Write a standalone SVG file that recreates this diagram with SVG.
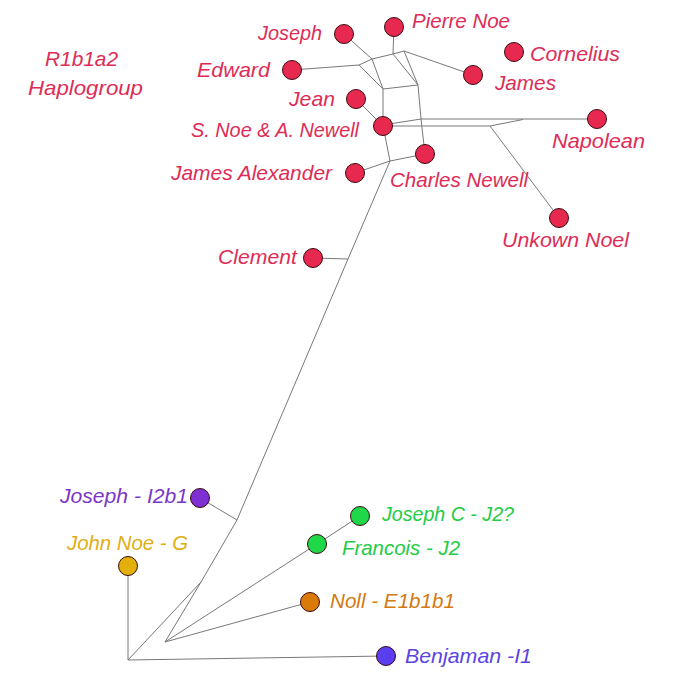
<svg xmlns="http://www.w3.org/2000/svg" width="690" height="681" viewBox="0 0 690 681">
<style>
text{font-family:"Liberation Sans",Arial,sans-serif;font-style:italic;font-size:21px}
.red{fill:#de2c56}.pur{fill:#7b35c8}.yel{fill:#dfae12}.grn{fill:#22cc44}.org{fill:#d47a12}.blu{fill:#5a45e2}
circle{stroke:#3a0a10;stroke-width:1}
.cr{fill:#e8294f}.cp{fill:#7e2fd2}.cy{fill:#e2b008}.cg{fill:#1ed84a}.co{fill:#d97a0a}.cb{fill:#5a3ff0}
#connectors line,#connectors polyline{stroke:#787878;stroke-width:1;fill:none}
</style>
<rect width="690" height="681" fill="#fff"/>
<g id="connectors">
<line x1="292" y1="70" x2="359" y2="65"/>
<line x1="359" y1="65" x2="372" y2="59"/>
<line x1="344" y1="34" x2="372" y2="59"/>
<line x1="359" y1="65" x2="383" y2="89"/>
<line x1="372" y1="59" x2="383" y2="89"/>
<line x1="372" y1="59" x2="393" y2="54"/>
<line x1="394" y1="27" x2="393" y2="54"/>
<line x1="393" y1="54" x2="404" y2="51"/>
<line x1="404" y1="51" x2="473" y2="75"/>
<line x1="393" y1="54" x2="418" y2="85"/>
<line x1="404" y1="51" x2="418" y2="85"/>
<line x1="383" y1="89" x2="418" y2="85"/>
<line x1="383" y1="89" x2="383" y2="126"/>
<polyline points="418,85 421,119 425,154"/>
<line x1="356" y1="99" x2="383" y2="126"/>
<polyline points="383,125 421,119 597,119"/>
<polyline points="383,126 490,126 523,119.5"/>
<line x1="490" y1="126" x2="559" y2="218"/>
<line x1="383" y1="126" x2="390" y2="161"/>
<line x1="390" y1="161" x2="425" y2="154"/>
<line x1="390" y1="161" x2="355" y2="173"/>
<line x1="390" y1="161" x2="348" y2="259"/>
<line x1="313" y1="258" x2="348" y2="259"/>
<line x1="348" y1="259" x2="237" y2="520"/>
<line x1="200" y1="498" x2="237" y2="520"/>
<line x1="237" y1="520" x2="201" y2="582"/>
<line x1="201" y1="582" x2="128" y2="660"/>
<line x1="201" y1="582" x2="165" y2="642"/>
<line x1="165" y1="642" x2="317" y2="544"/>
<line x1="165" y1="642" x2="310" y2="602"/>
<line x1="317" y1="544" x2="360" y2="516"/>
<line x1="128" y1="566" x2="128" y2="660"/>
<line x1="128" y1="660" x2="386" y2="656"/>
</g>
<g id="n-joseph"><circle class="cr" cx="344" cy="34" r="9.5"/><text class="red" x="258" y="40" textLength="64" lengthAdjust="spacingAndGlyphs">Joseph</text></g>
<g id="n-pierre"><circle class="cr" cx="394" cy="27" r="9.5"/><text class="red" x="412" y="28" textLength="98" lengthAdjust="spacingAndGlyphs">Pierre Noe</text></g>
<g id="n-edward"><circle class="cr" cx="292" cy="70" r="9.5"/><text class="red" x="197" y="77" textLength="73" lengthAdjust="spacingAndGlyphs">Edward</text></g>
<g id="n-cornelius"><circle class="cr" cx="514" cy="52" r="9.5"/><text class="red" x="530" y="61" textLength="90" lengthAdjust="spacingAndGlyphs">Cornelius</text></g>
<g id="n-james"><circle class="cr" cx="473" cy="75" r="9.5"/><text class="red" x="495" y="90" textLength="61" lengthAdjust="spacingAndGlyphs">James</text></g>
<g id="n-jean"><circle class="cr" cx="356" cy="99" r="9.5"/><text class="red" x="289" y="106" textLength="46" lengthAdjust="spacingAndGlyphs">Jean</text></g>
<g id="n-snoe"><circle class="cr" cx="383" cy="126" r="9.5"/><text class="red" x="191" y="137" textLength="168" lengthAdjust="spacingAndGlyphs">S. Noe &amp; A. Newell</text></g>
<g id="n-jamesalex"><circle class="cr" cx="355" cy="173" r="9.5"/><text class="red" x="171" y="180" textLength="161" lengthAdjust="spacingAndGlyphs">James Alexander</text></g>
<g id="n-charles"><circle class="cr" cx="425" cy="154" r="9.5"/><text class="red" x="390" y="187" textLength="138" lengthAdjust="spacingAndGlyphs">Charles Newell</text></g>
<g id="n-napolean"><circle class="cr" cx="597" cy="119" r="9.5"/><text class="red" x="552" y="148" textLength="93" lengthAdjust="spacingAndGlyphs">Napolean</text></g>
<g id="n-unkown"><circle class="cr" cx="559" cy="218" r="9.5"/><text class="red" x="502" y="247" textLength="127" lengthAdjust="spacingAndGlyphs">Unkown Noel</text></g>
<g id="n-clement"><circle class="cr" cx="313" cy="258" r="9.5"/><text class="red" x="218" y="264" textLength="79" lengthAdjust="spacingAndGlyphs">Clement</text></g>
<g id="t-haplo"><text class="red" x="45" y="66" textLength="73" lengthAdjust="spacingAndGlyphs">R1b1a2</text><text class="red" x="28" y="95" textLength="115" lengthAdjust="spacingAndGlyphs">Haplogroup</text></g>
<g id="n-josephi2b1"><circle class="cp" cx="200" cy="498" r="9.5"/><text class="pur" x="60" y="503" textLength="128" lengthAdjust="spacingAndGlyphs">Joseph - I2b1</text></g>
<g id="n-johnnoe"><circle class="cy" cx="128" cy="566" r="9.5"/><text class="yel" x="67" y="550" textLength="121" lengthAdjust="spacingAndGlyphs">John Noe - G</text></g>
<g id="n-josephc"><circle class="cg" cx="360" cy="516" r="9.5"/><text class="grn" x="382" y="521" textLength="132" lengthAdjust="spacingAndGlyphs">Joseph C - J2?</text></g>
<g id="n-francois"><circle class="cg" cx="317" cy="544" r="9.5"/><text class="grn" x="342" y="555" textLength="118" lengthAdjust="spacingAndGlyphs">Francois - J2</text></g>
<g id="n-noll"><circle class="co" cx="310" cy="602" r="9.5"/><text class="org" x="330" y="608" textLength="125" lengthAdjust="spacingAndGlyphs">Noll - E1b1b1</text></g>
<g id="n-benjaman"><circle class="cb" cx="386" cy="656" r="9.5"/><text class="blu" x="405" y="663" textLength="127" lengthAdjust="spacingAndGlyphs">Benjaman -I1</text></g>
</svg>
